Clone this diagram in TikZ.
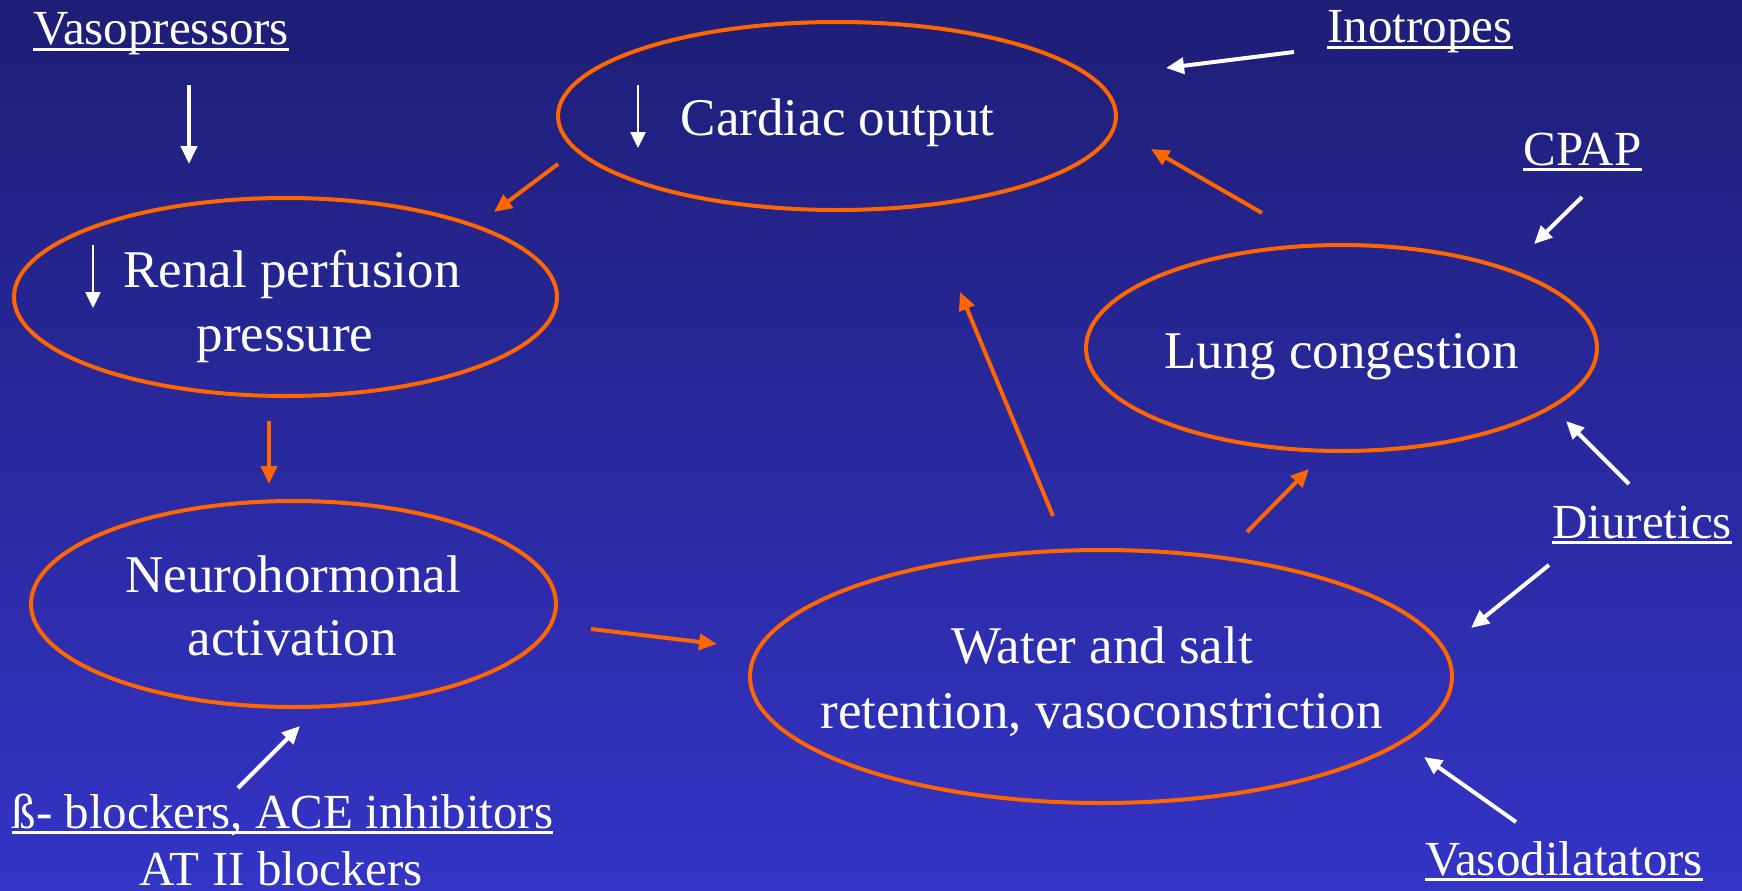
\documentclass[tikz,border=0pt]{standalone}
\usepackage{fontspec}
\setmainfont{Liberation Serif}
\usetikzlibrary{arrows.meta,shapes.geometric}
\definecolor{bgtop}{RGB}{30,30,118}
\definecolor{bgbot}{RGB}{52,52,198}
\definecolor{orng}{RGB}{255,102,0}
\newsavebox\ulbox
\newcommand\myul[1]{\sbox\ulbox{#1}\rlap{\rule[-0.13em]{\wd\ulbox}{0.06em}}\usebox\ulbox}
\begin{document}
\begin{tikzpicture}[x=1pt,y=-1pt,
  ell/.style={ellipse, draw=orng, line width=4pt, inner sep=0pt},
  oarr/.style={draw=orng, line width=4pt, -{Triangle[length=18pt,width=16pt]}},
  warr/.style={draw=white, line width=4pt, -{Triangle[length=18pt,width=16pt]}},
  darr/.style={draw=white, line width=2.5pt, -{Triangle[length=16pt,width=15pt]}},
  lbl/.style={text=white, font=\fontsize{49}{59}\selectfont, inner sep=0pt, anchor=base},
  etxt/.style={text=white, font=\fontsize{53}{64}\selectfont, inner sep=0pt, anchor=base}]
\shade[top color=bgtop, bottom color=bgbot] (0pt,0pt) rectangle (1742pt,-891pt);
\useasboundingbox (0pt,0pt) rectangle (1742pt,-891pt);

% ellipses
\node[ell, minimum width=558pt, minimum height=188pt] (cardiac) at (837,116) {};
\node[ell, minimum width=543pt, minimum height=198pt] (renal) at (285.5,297) {};
\node[ell, minimum width=525pt, minimum height=206pt] (neuro) at (293.5,604) {};
\node[ell, minimum width=511pt, minimum height=206pt] (lung) at (1341.5,348) {};
\node[ell, minimum width=702pt, minimum height=253pt] (water) at (1101,676.5) {};

% ellipse texts
\node[etxt] (cardiact) at (837.5,135) {Cardiac output};
\node[etxt] (renalt1) at (292,287) {Renal perfusion};
\node[etxt] (renalt2) at (285,351) {pressure};
\node[etxt] (neurot1) at (293,592) {Neurohormonal};
\node[etxt] (neurot2) at (292,655) {activation};
\node[etxt] (lungt) at (1341.5,368) {Lung congestion};
\node[etxt] (watert1) at (1102,663) {Water and salt};
\node[etxt] (watert2) at (1101.5,728) {retention, vasoconstriction};

% labels
\node[lbl] (vaso) at (161,45) {\myul{Vasopressors}};
\node[lbl] (ino) at (1420,43) {\myul{Inotropes}};
\node[lbl] (cpap) at (1582.5,165) {\myul{CPAP}};
\node[lbl] (diur) at (1642,538) {\myul{Diuretics}};
\node[lbl] (vasod) at (1564,875) {\myul{Vasodilatators}};
\node[lbl] (block1) at (282.5,828) {\myul{ß- blockers, ACE inhibitors}};
\node[lbl] (block2) at (281.5,885) {AT II blockers};

% arrow end points
\coordinate (a1s) at (558,164);  \coordinate (a1e) at (494,212);
\coordinate (a2s) at (269,421);  \coordinate (a2e) at (269,484);
\coordinate (a3s) at (591,629);  \coordinate (a3e) at (717,644);
\coordinate (a4s) at (1053,516); \coordinate (a4e) at (960,292);
\coordinate (a5s) at (1247,532); \coordinate (a5e) at (1309,469);
\coordinate (a6s) at (1262,213); \coordinate (a6e) at (1151,149);

\coordinate (w1s) at (189,85);   \coordinate (w1e) at (189,164);
\coordinate (w2s) at (1294,52);  \coordinate (w2e) at (1166,68);
\coordinate (w3s) at (1582,197); \coordinate (w3e) at (1534,244);
\coordinate (w4s) at (1629,484); \coordinate (w4e) at (1566,421);
\coordinate (w5s) at (1549,565); \coordinate (w5e) at (1471,628);
\coordinate (w6s) at (1516,822); \coordinate (w6e) at (1424,757);
\coordinate (w7s) at (238,788);  \coordinate (w7e) at (300,726);

\coordinate (d1s) at (638,85);   \coordinate (d1e) at (638,148);
\coordinate (d2s) at (93,245);   \coordinate (d2e) at (93,308);

% orange connectors
\draw[oarr] (a1s) -- (a1e);
\draw[oarr] (a2s) -- (a2e);
\draw[oarr] (a3s) -- (a3e);
\draw[oarr] (a4s) -- (a4e);
\draw[oarr] (a5s) -- (a5e);
\draw[oarr] (a6s) -- (a6e);

% white connectors
\draw[warr] (w1s) -- (w1e);
\draw[warr] (w2s) -- (w2e);
\draw[warr] (w3s) -- (w3e);
\draw[warr] (w4s) -- (w4e);
\draw[warr] (w5s) -- (w5e);
\draw[warr] (w6s) -- (w6e);
\draw[warr] (w7s) -- (w7e);

% decrease arrows
\draw[darr] (d1s) -- (d1e);
\draw[darr] (d2s) -- (d2e);
\end{tikzpicture}
\end{document}
